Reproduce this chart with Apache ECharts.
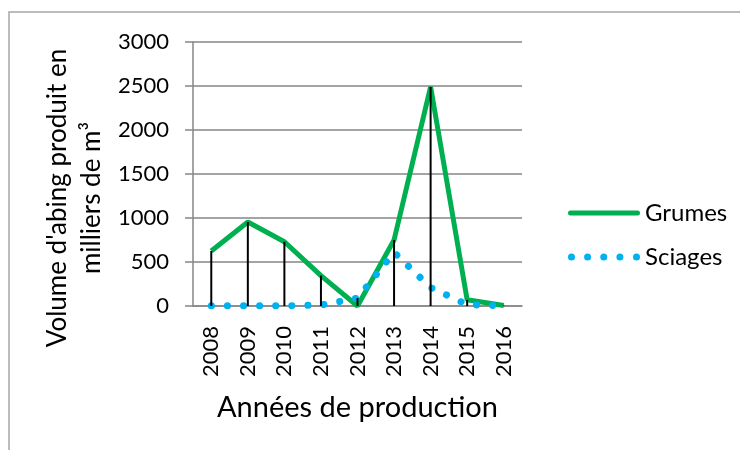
<!DOCTYPE html>
<html>
<head>
	<meta charset="utf-8">
	<title>Abing</title>
	<script src="https://cdn.jsdelivr.net/npm/echarts@6/dist/echarts.min.js"></script>
	<style>
		body { margin: 0; background: #fff; }
	</style>
</head>
<body>
	<div id="main" style="width: 740px;height: 450px;"></div>
	<script>
		// données
		var annees = ['2008', '2009', '2010', '2011', '2012', '2013', '2014', '2015', '2016'];
		var grumes = [625, 955, 730, 345, 0, 750, 2490, 70, 5];
		var sciages = [2, 2, 2, 10, 90, 610, 210, 15, 2];
		var yTicks = [0, 500, 1000, 1500, 2000, 2500, 3000];
		var titreY = "Volume d'abing produit en\nmilliers de m³";

		// lignes de projection : du point le plus haut jusqu'à l'axe
		var projection = annees.map(function (a, i) {
			return Math.max(grumes[i], sciages[i]);
		});

		var police = 'Lato, "Open Sans", sans-serif';

		// icônes de légende : trait plein et pointillés ronds
		var iconGrumes = 'path://M36,0L36.01,0L36,0.01Z M2.5,1H69.5A2.5,2.5 0 0 1 69.5,6H2.5A2.5,2.5 0 0 1 2.5,1Z M36,7L36.01,7L36,6.99Z';
		var iconSciages = 'path://';
		[3.5, 19.6, 35.75, 51.9, 68.5].forEach(function (cx) {
			iconSciages += 'M' + (cx - 3.5) + ',3.5A3.5,3.5 0 1 0 ' + (cx + 3.5) + ',3.5A3.5,3.5 0 1 0 ' + (cx - 3.5) + ',3.5Z';
		});

		var myCharts = echarts.init(document.getElementById('main'));

		var option = {
			animation: false,
			backgroundColor: '#fff',
			textStyle: { fontFamily: police, color: '#000' },
			graphic: [{
				type: 'rect',
				shape: { x: 9, y: 12, width: 800, height: 500 },
				style: { fill: 'none', stroke: '#a6a6a6', lineWidth: 1.5 },
				silent: true
			}, {
				// titre de l'axe vertical, sur deux lignes
				type: 'text',
				x: 75,
				y: 198,
				rotation: Math.PI / 2,
				silent: true,
				style: {
					text: titreY,
					align: 'center',
					verticalAlign: 'middle',
					fontFamily: police,
					fontSize: 26,
					lineHeight: 34,
					fill: '#000'
				}
			}],
			grid: { left: 193, right: 218, top: 42, bottom: 144 },
			legend: {
				orient: 'vertical',
				left: 563,
				top: 196,
				itemWidth: 72,
				itemHeight: 7,
				itemGap: 20,
				data: [
					{ name: 'Grumes', icon: iconGrumes },
					{ name: 'Sciages', icon: iconSciages }
				],
				textStyle: { fontFamily: police, fontSize: 24, color: '#000' }
			},
			xAxis: {
				type: 'category',
				data: annees,
				name: 'Années de production',
				nameLocation: 'middle',
				nameGap: 87,
				nameTextStyle: { fontFamily: police, fontSize: 29, color: '#000' },
				axisLine: { lineStyle: { color: '#868686', width: 1.5 } },
				axisTick: { show: false },
				axisLabel: { rotate: 90, margin: 20, fontFamily: police, fontSize: 22, color: '#000' }
			},
			yAxis: {
				type: 'value',
				min: yTicks[0],
				max: yTicks[yTicks.length - 1],
				interval: 500,
				axisLine: { show: true, lineStyle: { color: '#868686', width: 1.5 } },
				axisTick: { show: true, length: 8, lineStyle: { color: '#868686', width: 1.5 } },
				axisLabel: {
					margin: 24, fontFamily: police, fontSize: 22, color: '#000',
					formatter: function (v) { return String(v); }
				},
				splitLine: { lineStyle: { color: '#868686', width: 1.5 } }
			},
			series: [{
				name: 'Grumes',
				type: 'line',
				data: grumes,
				symbol: 'none',
				z: 2,
				itemStyle: { color: '#00b050' },
				lineStyle: { color: '#00b050', width: 5 }
			}, {
				name: 'Sciages',
				type: 'line',
				data: sciages,
				symbol: 'none',
				z: 2,
				itemStyle: { color: '#00b0f0' },
				lineStyle: { color: '#00b0f0', width: 7, type: [0.1, 16], cap: 'round' }
			}, {
				name: 'projection',
				type: 'bar',
				data: projection,
				barWidth: 2,
				z: 3,
				silent: true,
				itemStyle: { color: '#000' }
			}]
		};

		myCharts.setOption(option);
	</script>
</body>
</html>
